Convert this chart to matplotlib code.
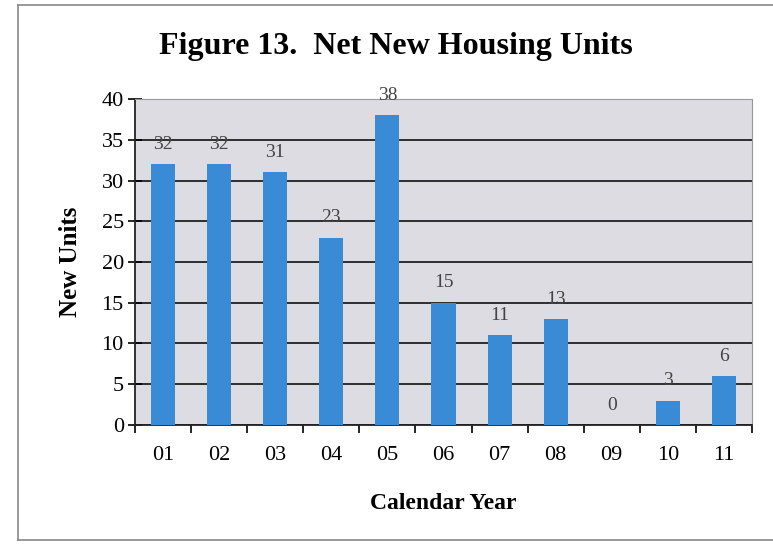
import matplotlib
matplotlib.use('Agg')
import matplotlib.pyplot as plt
from matplotlib.lines import Line2D

# data
years = ['01', '02', '03', '04', '05', '06', '07', '08', '09', '10', '11']
units = [32, 32, 31, 23, 38, 15, 11, 13, 0, 3, 6]

plt.rcParams['font.family'] = ['Liberation Serif', 'DejaVu Serif']

fig = plt.figure(figsize=(7.73, 5.45), dpi=100)
ax = fig.add_axes([0.1746, 0.2202, 0.7982, 0.5981])

x = range(len(years))
ax.bar(x, units, width=0.43, color='#3a8bd6', zorder=3)
for xi, v in zip(x, units):
    ax.text(xi, v + 1.4, str(v), ha='center', va='bottom', fontsize=14,
            color='#444444', zorder=4)

ax.set_facecolor('#dcdce2')
ax.set_xlim(-0.5, len(years) - 0.5)
ax.set_ylim(0, 40)
ax.set_yticks(range(0, 41, 5))
ax.yaxis.grid(True, color='#111111', linewidth=1.2, zorder=1)
ax.set_axisbelow(True)

ax.set_xticks(list(x))
ax.set_xticklabels(years, fontsize=16)
ax.set_xticks([i + 0.5 for i in range(-1, len(years))], minor=True)
ax.tick_params(axis='x', which='major', length=0, pad=15)
ax.tick_params(axis='x', which='minor', length=6, width=1.2, direction='out')
ax.tick_params(axis='y', labelsize=16, length=10, width=1.2, direction='inout', pad=3)

for s in ['left', 'bottom']:
    ax.spines[s].set_color('#222222')
    ax.spines[s].set_linewidth(1.3)
for s in ['top', 'right']:
    ax.spines[s].set_color('#999999')

ax.set_xlabel('Calendar Year', fontsize=17, fontweight='bold', labelpad=20)
ax.set_ylabel('New Units', fontsize=18, fontweight='bold', labelpad=14)
fig.text(0.512, 0.915, 'Figure 13.  Net New Housing Units', ha='center',
         va='center', fontsize=23, fontweight='bold')

# outer frame of the scanned figure (left, top, bottom)
frame = dict(transform=fig.transFigure, color='#888888', linewidth=1.2)
fig.lines.append(Line2D([0.023, 0.023], [0.009, 0.99], **frame))
fig.lines.append(Line2D([0.023, 1.0], [0.99, 0.99], **frame))
fig.lines.append(Line2D([0.023, 1.0], [0.009, 0.009], **frame))

fig.savefig('out.png', dpi=100)
